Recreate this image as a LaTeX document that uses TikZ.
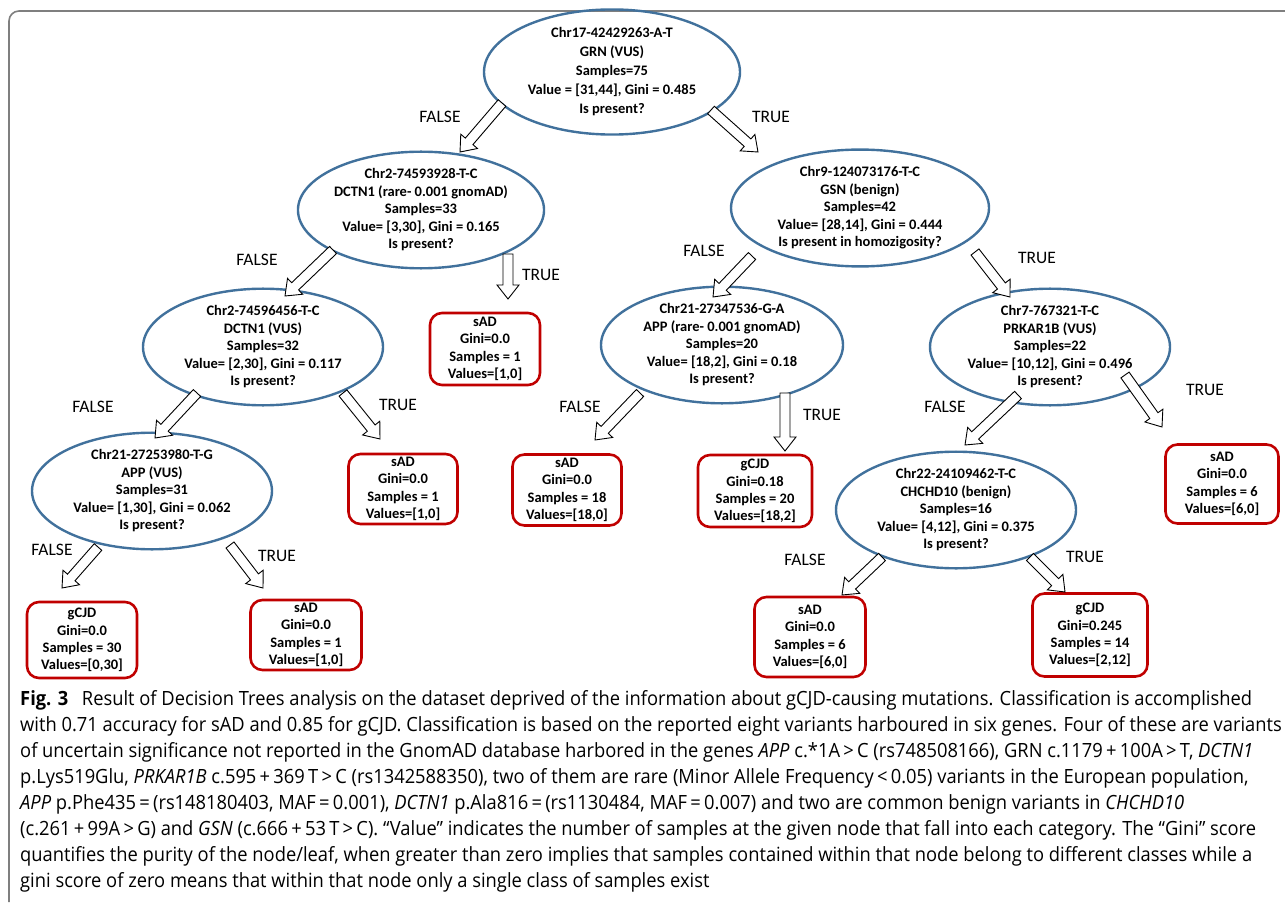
\documentclass[tikz,border=0pt]{standalone}
\usepackage{fontspec}
\setmainfont{Carlito}
\newfontfamily\capfont{Open Sans}[FakeStretch=0.935]
\usetikzlibrary{shapes.geometric,calc}
\definecolor{ellblue}{HTML}{41719C}
\definecolor{leafred}{HTML}{C00000}
\definecolor{framegray}{HTML}{7F7F7F}
\tikzset{
 split/.style={ellipse, draw=ellblue, line width=2.4pt, inner sep=0pt, align=center, font=\fontsize{14.5}{17.5}\selectfont\bfseries},
 leaf/.style={rectangle, rounded corners=12pt, draw=leafred, line width=2.6pt, inner sep=0pt, align=center, font=\fontsize{14.5}{17.3}\selectfont\bfseries},
 blk/.style={draw=black, fill=white, line width=0.9pt, line join=miter},
 lab/.style={font=\fontsize{17.5}{20}\selectfont, inner sep=0pt},
}
\newcommand\blk[2]{%
 \draw[blk] let \p1=(#1), \p2=(#2), \n1={atan2(\y2-\y1,\x2-\x1)}, \n2={veclen(\x2-\x1,\y2-\y1)} in
 {[shift={(\p1)}, rotate=\n1] (0,-5) -- ({\n2-14},-5) -- ({\n2-14},-11) -- ({\n2},0) -- ({\n2-14},11) -- ({\n2-14},5) -- (0,5) -- cycle};}
\begin{document}
\begin{tikzpicture}[x=1pt,y=-1pt]
\useasboundingbox (0,0) rectangle (1285,904);
\draw[framegray, line width=1.6pt] (9,902) -- (9,21) arc[start angle=180, end angle=90, radius=10pt] -- (1285,11);
% split nodes
\node[split, minimum width=256pt, minimum height=100pt, font=\fontsize{14.5}{19}\selectfont\bfseries] (r) at (612,72) {Chr17-42429263-A-T\\GRN (VUS)\\Samples=75\\Value = [31,44], Gini = 0.485\\Is present?};
\node[split, minimum width=243pt, minimum height=97pt] (a) at (421,210) {Chr2-74593928-T-C\\DCTN1 (rare- 0.001 gnomAD)\\Samples=33\\Value= [3,30], Gini = 0.165\\Is present?};
\node[split, minimum width=258pt, minimum height=110pt] (b) at (860,208) {Chr9-124073176-T-C\\GSN (benign)\\Samples=42\\Value= [28,14], Gini = 0.444\\Is present in homozigosity?};
\node[split, minimum width=240pt, minimum height=96pt] (c) at (263,347) {Chr2-74596456-T-C\\DCTN1 (VUS)\\Samples=32\\Value= [2,30], Gini = 0.117\\Is present?};
\node[split, minimum width=242pt, minimum height=96pt] (d) at (722,345) {Chr21-27347536-G-A\\APP (rare- 0.001 gnomAD)\\Samples=20\\Value= [18,2], Gini = 0.18\\Is present?};
\node[split, minimum width=240pt, minimum height=96pt] (e) at (1050,347) {Chr7-767321-T-C\\PRKAR1B (VUS)\\Samples=22\\Value= [10,12], Gini = 0.496\\Is present?};
\node[split, minimum width=240pt, minimum height=97pt] (f) at (152,491) {Chr21-27253980-T-G\\APP (VUS)\\Samples=31\\Value= [1,30], Gini = 0.062\\Is present?};
\node[split, minimum width=240pt, minimum height=96pt] (g) at (956,510) {Chr22-24109462-T-C\\CHCHD10 (benign)\\Samples=16\\Value= [4,12], Gini = 0.375\\Is present?};
% leaves
\node[leaf, minimum width=110pt, minimum height=72pt] (l1) at (485,349) {sAD\\Gini=0.0\\Samples = 1\\Values=[1,0]};
\node[leaf, minimum width=109pt, minimum height=70pt] (l2) at (403,489) {sAD\\Gini=0.0\\Samples = 1\\Values=[1,0]};
\node[leaf, minimum width=109pt, minimum height=71pt] (l3) at (567,490) {sAD\\Gini=0.0\\Samples = 18\\Values=[18,0]};
\node[leaf, minimum width=114pt, minimum height=72pt] (l4) at (755,491) {gCJD\\Gini=0.18\\Samples = 20\\Values=[18,2]};
\node[leaf, minimum width=113pt, minimum height=79pt] (l5) at (1222,484) {sAD\\Gini=0.0\\Samples = 6\\Values=[6,0]};
\node[leaf, minimum width=110pt, minimum height=76pt] (l6) at (82,640) {gCJD\\Gini=0.0\\Samples = 30\\Values=[0,30]};
\node[leaf, minimum width=111pt, minimum height=70pt] (l7) at (306,635) {sAD\\Gini=0.0\\Samples = 1\\Values=[1,0]};
\node[leaf, minimum width=111pt, minimum height=80pt] (l8) at (810,637) {sAD\\Gini=0.0\\Samples = 6\\Values=[6,0]};
\node[leaf, minimum width=115pt, minimum height=83pt] (l9) at (1090,635) {gCJD\\Gini=0.245\\Samples = 14\\Values=[2,12]};
% arrow end points
\coordinate (t1) at (502,103); \coordinate (h1) at (460,152);
\coordinate (t2) at (711,110); \coordinate (h2) at (758,152);
\coordinate (t3) at (333,250); \coordinate (h3) at (285,296);
\coordinate (t4) at (508,254); \coordinate (h4) at (508,299);
\coordinate (t5) at (752,256); \coordinate (h5) at (713,297);
\coordinate (t6) at (975,252); \coordinate (h6) at (1010,297);
\coordinate (t7) at (640,393); \coordinate (h7) at (595,440);
\coordinate (t8) at (785,393); \coordinate (h8) at (785,451);
\coordinate (t9) at (1018,395); \coordinate (h9) at (965,445);
\coordinate (t10) at (1125,375); \coordinate (h10) at (1162,427);
\coordinate (t11) at (197,393); \coordinate (h11) at (155,438);
\coordinate (t12) at (343,393); \coordinate (h12) at (380,439);
\coordinate (t13) at (98,547); \coordinate (h13) at (62,588);
\coordinate (t14) at (230,545); \coordinate (h14) at (263,588);
\coordinate (t15) at (882,557); \coordinate (h15) at (842,595);
\coordinate (t16) at (1030,557); \coordinate (h16) at (1065,592);
\blk{t1}{h1}\blk{t2}{h2}\blk{t3}{h3}\blk{t4}{h4}
\blk{t5}{h5}\blk{t6}{h6}\blk{t7}{h7}\blk{t8}{h8}
\blk{t9}{h9}\blk{t10}{h10}\blk{t11}{h11}\blk{t12}{h12}
\blk{t13}{h13}\blk{t14}{h14}\blk{t15}{h15}\blk{t16}{h16}
% labels
\node[lab] (f1) at (440,117) {FALSE}; \node[lab] (r1) at (771,117) {TRUE};
\node[lab] (f2) at (257,260) {FALSE}; \node[lab] (r2) at (541,275) {TRUE};
\node[lab] (f3) at (704,251) {FALSE}; \node[lab] (r3) at (1037,258) {TRUE};
\node[lab] (f4) at (580,407) {FALSE}; \node[lab] (r4) at (822,415) {TRUE};
\node[lab] (f5) at (945,407) {FALSE}; \node[lab] (r5) at (1205,390) {TRUE};
\node[lab] (f6) at (93,407) {FALSE}; \node[lab] (r6) at (398,405) {TRUE};
\node[lab] (f7) at (52,550) {FALSE}; \node[lab] (r7) at (277,556) {TRUE};
\node[lab] (f8) at (805,560) {FALSE}; \node[lab] (r8) at (1085,557) {TRUE};
% caption
\node[anchor=north west, align=left, inner sep=0pt, font=\capfont\fontsize{19.6}{26}\selectfont] (cap) at (20,690) {%
\textbf{Fig. 3}\hspace{0.7em}Result of Decision Trees analysis on the dataset deprived of the information about gCJD-causing mutations. Classification is accomplished\\
with 0.71 accuracy for sAD and 0.85 for gCJD. Classification is based on the reported eight variants harboured in six genes. Four of these are variants\\
of uncertain significance not reported in the GnomAD database harbored in the genes \textit{APP} c.*1A\,>\,C (rs748508166), GRN c.1179\,+\,100A\,>\,T, \textit{DCTN1}\\
p.Lys519Glu, \textit{PRKAR1B} c.595\,+\,369\,T\,>\,C (rs1342588350), two of them are rare (Minor Allele Frequency\,<\,0.05) variants in the European population,\\
\textit{APP} p.Phe435\,=\,(rs148180403, MAF\,=\,0.001), \textit{DCTN1} p.Ala816\,=\,(rs1130484, MAF\,=\,0.007) and two are common benign variants in \textit{CHCHD10}\\
(c.261\,+\,99A\,>\,G) and \textit{GSN} (c.666\,+\,53\,T\,>\,C). “Value” indicates the number of samples at the given node that fall into each category. The “Gini” score\\
quantifies the purity of the node/leaf, when greater than zero implies that samples contained within that node belong to different classes while a\\
gini score of zero means that within that node only a single class of samples exist};
\end{tikzpicture}
\end{document}
